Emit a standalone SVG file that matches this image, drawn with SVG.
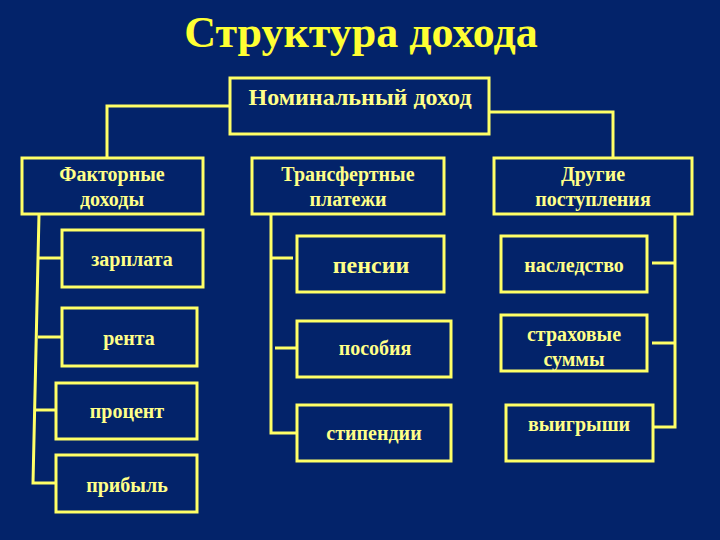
<svg xmlns="http://www.w3.org/2000/svg" width="720" height="540" viewBox="0 0 720 540">
<style>
.bx{fill:none;stroke:#ffff66;stroke-width:3}
.ln{fill:none;stroke:#ffff66;stroke-width:3}
.t{font-family:"Liberation Serif","Times New Roman",serif;font-weight:bold;fill:#ffff88;text-anchor:middle;font-size:20px}
.big{font-size:24px}
.title{font-family:"Liberation Serif","Times New Roman",serif;font-weight:bold;fill:#ffff33;text-anchor:middle;font-size:44px}
</style>
<rect width="720" height="540" fill="#03236a"/>
<text class="title" x="361" y="47">Структура дохода</text>
<g id="connectors">
<polyline class="ln" points="230,106 107,106 107,158"/>
<polyline class="ln" points="489,112 613,112 613,158"/>
<polyline class="ln" points="39,214 33,483 56,483"/>
<line class="ln" x1="39" y1="258" x2="62" y2="258"/>
<line class="ln" x1="38" y1="337" x2="62" y2="337"/>
<line class="ln" x1="35" y1="410" x2="56" y2="410"/>
<polyline class="ln" points="271,214 271,433 297,433"/>
<line class="ln" x1="271" y1="258" x2="293" y2="258"/>
<line class="ln" x1="275" y1="348" x2="297" y2="348"/>
<polyline class="ln" points="675,214 675,427 653,427"/>
<line class="ln" x1="652" y1="263" x2="675" y2="263"/>
<line class="ln" x1="652" y1="343" x2="675" y2="343"/>
</g>
<g id="nominal"><rect class="bx" x="230" y="78" width="259" height="56"/><text class="t big" x="360" y="105">Номинальный доход</text></g>
<g id="factor"><rect class="bx" x="22" y="158" width="181" height="56"/><text class="t" x="112" y="181">Факторные</text><text class="t" x="112" y="206">доходы</text></g>
<g id="transfer"><rect class="bx" x="252" y="158" width="192" height="56"/><text class="t" x="348" y="181">Трансфертные</text><text class="t" x="348" y="206">платежи</text></g>
<g id="other"><rect class="bx" x="494" y="158" width="198" height="56"/><text class="t" x="593" y="181">Другие</text><text class="t" x="593" y="206">поступления</text></g>
<g id="zarplata"><rect class="bx" x="62" y="230" width="141" height="57"/><text class="t" x="132" y="266">зарплата</text></g>
<g id="renta"><rect class="bx" x="62" y="308" width="135" height="58"/><text class="t" x="129" y="345">рента</text></g>
<g id="procent"><rect class="bx" x="56" y="383" width="141" height="56"/><text class="t" x="127" y="418">процент</text></g>
<g id="pribyl"><rect class="bx" x="56" y="455" width="141" height="57"/><text class="t" x="127" y="492">прибыль</text></g>
<g id="pensii"><rect class="bx" x="297" y="236" width="147" height="56"/><text class="t big" x="371" y="273">пенсии</text></g>
<g id="posobiya"><rect class="bx" x="297" y="321" width="154" height="56"/><text class="t" x="375" y="355">пособия</text></g>
<g id="stipendii"><rect class="bx" x="297" y="405" width="154" height="56"/><text class="t" x="374" y="440">стипендии</text></g>
<g id="nasledstvo"><rect class="bx" x="501" y="236" width="146" height="56"/><text class="t" x="574" y="272">наследство</text></g>
<g id="strahovye"><rect class="bx" x="501" y="315" width="146" height="56"/><text class="t" x="574" y="341">страховые</text><text class="t" x="574" y="366">суммы</text></g>
<g id="vyigryshi"><rect class="bx" x="506" y="405" width="147" height="56"/><text class="t" x="579" y="431">выигрыши</text></g>
</svg>
